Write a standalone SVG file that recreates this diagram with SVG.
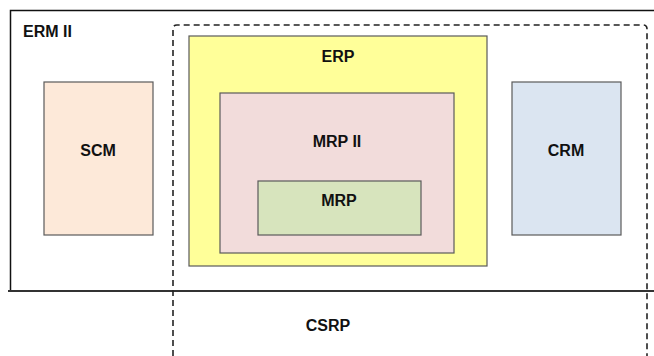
<svg xmlns="http://www.w3.org/2000/svg" width="654" height="356" viewBox="0 0 654 356">
<style>
.lbl{font-family:"Liberation Sans",Arial,sans-serif;font-weight:bold;font-size:16px;fill:#111;text-anchor:middle}
.box{stroke:#5a5a5a;stroke-width:1.2}
</style>
<rect width="654" height="356" fill="#fff"/>
<g id="erm2">
<path d="M655 10.5 H10.5 V291" fill="none" stroke="#111" stroke-width="1.5"/>
<path d="M8 291 H654" fill="none" stroke="#333" stroke-width="2"/>
<text x="23" y="37" class="lbl" style="text-anchor:start">ERM II</text>
</g>
<g id="csrp">
<path d="M173 356 V29 Q173 25 177 25 H643 Q647 25 647 29 V356" fill="none" stroke="#222" stroke-width="1.6" stroke-dasharray="6,4"/>
<text x="328" y="331" class="lbl">CSRP</text>
</g>
<g id="scm">
<rect x="44" y="82" width="109" height="153" fill="#FDE9D9" class="box"/>
<text x="98" y="156" class="lbl">SCM</text>
</g>
<g id="crm">
<rect x="512" y="82" width="109" height="153" fill="#DBE5F1" class="box"/>
<text x="566" y="156" class="lbl">CRM</text>
</g>
<g id="erp">
<rect x="189" y="36" width="298" height="230" fill="#FFFF99" class="box"/>
<text x="338" y="62" class="lbl">ERP</text>
</g>
<g id="mrp2">
<rect x="220" y="93" width="234" height="160" fill="#F2DCDB" class="box"/>
<text x="337" y="147" class="lbl">MRP II</text>
</g>
<g id="mrp">
<rect x="258" y="181" width="163" height="54" fill="#D7E4BD" class="box"/>
<text x="339" y="206" class="lbl">MRP</text>
</g>
<g id="connectors"></g>
</svg>
